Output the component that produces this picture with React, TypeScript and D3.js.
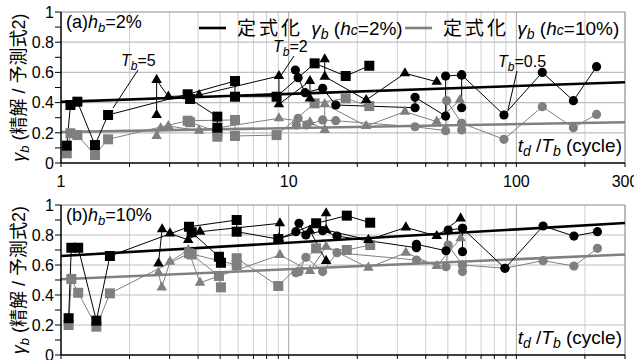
import React from 'react';
import * as d3 from 'd3';

type Pt = [number, number];

// x = td/Tb (cycle), y = gamma_b
const xMajorTicks = [1, 10, 100, 300];
const xMinorTicks = [2, 3, 4, 5, 6, 7, 8, 9, 20, 30, 40, 50, 60, 70, 80, 90, 200];
const yTicks = [0, 0.2, 0.4, 0.6, 0.8, 1];
const yMinorTicks = [0.1, 0.3, 0.5, 0.7, 0.9];

// ---- (a) hb = 2% ----
const aBlackSq1: Pt[] = [[1.06, 0.115], [1.1, 0.384], [1.18, 0.406], [1.41, 0.119], [1.61, 0.318], [3.6, 0.455], [5.81, 0.543], [5.81, 0.439], [8.85, 0.439], [13.0, 0.66], [17.8, 0.576], [22.6, 0.644]];
const aBlackSq2: Pt[] = [[3.69, 0.424], [4.86, 0.307], [4.86, 0.234]];
const aBlackTri1: Pt[] = [[2.63, 0.318], [2.63, 0.55], [2.96, 0.44], [4.04, 0.45], [9.06, 0.576], [9.06, 0.389], [12.4, 0.543], [12.4, 0.428]];
const aBlackTri2: Pt[] = [[14.4, 0.687], [14.4, 0.572], [21.9, 0.417], [32.4, 0.594], [44.7, 0.538]];
const aBlackCir1: Pt[] = [[10.7, 0.616], [11.0, 0.565], [11.8, 0.466], [14.1, 0.495], [16.1, 0.384], [35.9, 0.366], [35.9, 0.435], [48.9, 0.311], [48.9, 0.576], [57.5, 0.583], [57.5, 0.366]];
const aBlackCir2: Pt[] = [[57.5, 0.583], [88.2, 0.318], [130, 0.6], [178, 0.413], [225, 0.638]];

const aGraySq1: Pt[] = [[1.06, 0.064], [1.1, 0.197], [1.18, 0.185], [1.41, 0.053], [1.61, 0.157], [3.6, 0.28], [5.81, 0.285], [5.81, 0.179], [8.85, 0.185], [13.0, 0.395], [17.8, 0.428], [22.6, 0.377]];
const aGraySq2: Pt[] = [[3.69, 0.27], [4.86, 0.207], [4.86, 0.174]];
const aGrayTri: Pt[] = [[2.63, 0.179], [2.74, 0.23], [2.96, 0.245], [4.04, 0.214], [9.06, 0.296], [12.4, 0.27], [14.4, 0.219], [14.4, 0.39], [21.9, 0.245], [32.4, 0.34], [44.7, 0.274], [56.5, 0.417]];
const aGrayCir1: Pt[] = [[10.8, 0.252], [11.0, 0.296], [12.0, 0.252], [14.1, 0.285], [16.1, 0.28], [35.9, 0.24], [48.9, 0.214], [49.4, 0.413], [57.5, 0.263], [57.5, 0.219]];
const aGrayCir2: Pt[] = [[57.5, 0.263], [88.2, 0.157], [130, 0.373], [178, 0.234], [225, 0.322]];

const aTrendBlack: Pt[] = [[1, 0.405], [300, 0.535]];
const aTrendGray: Pt[] = [[1, 0.205], [300, 0.27]];

// ---- (b) hb = 10% ----
const bBlackSq1: Pt[] = [[1.08, 0.245], [1.11, 0.715], [1.19, 0.715], [1.43, 0.229], [1.64, 0.66], [3.65, 0.855], [5.91, 0.9], [5.91, 0.822], [9.0, 0.773], [13.2, 0.878], [18.0, 0.929], [22.8, 0.882]];
const bBlackSq2: Pt[] = [[3.75, 0.818], [4.94, 0.655], [5.04, 0.615]];
const bBlackTri1: Pt[] = [[2.68, 0.611], [2.78, 0.838], [3.01, 0.811], [3.62, 0.767], [4.08, 0.822], [9.15, 0.878], [9.07, 0.778], [12.4, 0.83], [14.6, 0.627]];
const bBlackTri2: Pt[] = [[14.6, 0.945], [14.6, 0.833], [22.4, 0.767], [32.7, 0.851], [44.7, 0.793], [56.9, 0.911]];
const bBlackCir1: Pt[] = [[10.75, 0.822], [11.1, 0.878], [11.9, 0.8], [14.1, 0.829], [16.3, 0.793], [36.4, 0.715], [36.4, 0.738], [49.1, 0.695], [50.2, 0.833], [58, 0.845], [58, 0.689]];
const bBlackCir2: Pt[] = [[58, 0.845], [89.1, 0.578], [131, 0.86], [179, 0.793], [227, 0.822]];

const bGraySq1: Pt[] = [[1.08, 0.2], [1.11, 0.507], [1.19, 0.415], [1.43, 0.189], [1.64, 0.411], [3.65, 0.678], [5.91, 0.6], [5.91, 0.645], [9.0, 0.46], [13.2, 0.711], [18.0, 0.7], [22.8, 0.733]];
const bGraySq2: Pt[] = [[3.75, 0.67], [4.94, 0.527], [5.04, 0.451]];
const bGrayTri: Pt[] = [[2.68, 0.549], [2.77, 0.451], [3.01, 0.622], [3.62, 0.7], [4.08, 0.482], [9.15, 0.667], [12.4, 0.56], [14.6, 0.722], [22.4, 0.582], [32.7, 0.682], [44.7, 0.593], [56.9, 0.778]];
const bGrayCir1: Pt[] = [[10.75, 0.549], [11.1, 0.555], [11.9, 0.651], [14.1, 0.556], [16.3, 0.682], [36.4, 0.633], [49.1, 0.589], [50.2, 0.733], [58, 0.6], [58, 0.556]];
const bGrayCir2: Pt[] = [[58, 0.6], [89.1, 0.578], [131, 0.629], [179, 0.593], [227, 0.711]];

const bTrendBlack: Pt[] = [[1, 0.66], [300, 0.88]];
const bTrendGray: Pt[] = [[1, 0.505], [300, 0.67]];

type Shape = 'sq' | 'tri' | 'cir';
interface Series { pts: Pt[]; shape: Shape; dark: boolean }

const BLACK = '#000';
const GRAY = '#7f7f7f';
const FONT = '"Liberation Sans", Arial, "Noto Sans CJK JP", sans-serif';

const panelA: Series[] = [
  { pts: aGraySq1, shape: 'sq', dark: false },
  { pts: aGraySq2, shape: 'sq', dark: false },
  { pts: aGrayTri, shape: 'tri', dark: false },
  { pts: aGrayCir1, shape: 'cir', dark: false },
  { pts: aGrayCir2, shape: 'cir', dark: false },
  { pts: aBlackSq1, shape: 'sq', dark: true },
  { pts: aBlackSq2, shape: 'sq', dark: true },
  { pts: aBlackTri1, shape: 'tri', dark: true },
  { pts: aBlackTri2, shape: 'tri', dark: true },
  { pts: aBlackCir1, shape: 'cir', dark: true },
  { pts: aBlackCir2, shape: 'cir', dark: true },
];

const panelB: Series[] = [
  { pts: bGraySq1, shape: 'sq', dark: false },
  { pts: bGraySq2, shape: 'sq', dark: false },
  { pts: bGrayTri, shape: 'tri', dark: false },
  { pts: bGrayCir1, shape: 'cir', dark: false },
  { pts: bGrayCir2, shape: 'cir', dark: false },
  { pts: bBlackSq1, shape: 'sq', dark: true },
  { pts: bBlackSq2, shape: 'sq', dark: true },
  { pts: bBlackTri1, shape: 'tri', dark: true },
  { pts: bBlackTri2, shape: 'tri', dark: true },
  { pts: bBlackCir1, shape: 'cir', dark: true },
  { pts: bBlackCir2, shape: 'cir', dark: true },
];

const left = 61;
const right = 625;
const x = d3.scaleLog().domain([1, 300]).range([left, right]);
const triPath = d3.symbol(d3.symbolTriangle, 48)() as string;

const Marker: React.FC<{ cx: number; cy: number; shape: Shape; color: string }> = ({ cx, cy, shape, color }) => {
  if (shape === 'sq') return <rect x={cx - 5} y={cy - 5} width={10} height={10} fill={color} />;
  if (shape === 'cir') return <circle cx={cx} cy={cy} r={4.6} fill={color} />;
  return <path d={triPath} transform={`translate(${cx},${cy})`} fill={color} />;
};

interface PanelProps {
  top: number;
  bottom: number;
  series: Series[];
  trendBlack: Pt[];
  trendGray: Pt[];
  tag: string;
  showXLabels: boolean;
  children?: React.ReactNode;
}

const Panel: React.FC<PanelProps> = ({ top, bottom, series, trendBlack, trendGray, tag, showXLabels, children }) => {
  const y = d3.scaleLinear().domain([0, 1]).range([bottom, top]);
  const line = d3.line<Pt>().x(d => x(d[0])).y(d => y(d[1]));
  const mid = (top + bottom) / 2;
  return (
    <g>
      {/* grid */}
      {xMinorTicks.map(t => (
        <line key={'gx' + t} x1={x(t)} x2={x(t)} y1={top} y2={bottom} stroke="#cfcfcf" strokeWidth={1} />
      ))}
      {[10, 100].map(t => (
        <line key={'gM' + t} x1={x(t)} x2={x(t)} y1={top} y2={bottom} stroke="#a6a6a6" strokeWidth={1} />
      ))}
      {[0.2, 0.4, 0.6, 0.8].map(t => (
        <line key={'gy' + t} x1={left} x2={right} y1={y(t)} y2={y(t)} stroke="#bdbdbd" strokeWidth={1.2} />
      ))}
      <line x1={left} x2={right} y1={top} y2={top} stroke="#8c8c8c" strokeWidth={1.2} />
      <line x1={right} x2={right} y1={top} y2={bottom} stroke="#8c8c8c" strokeWidth={1.2} />

      {/* trend lines */}
      <path d={line(trendGray) || ''} stroke="#808080" strokeWidth={2.6} fill="none" />
      <path d={line(trendBlack) || ''} stroke={BLACK} strokeWidth={2.6} fill="none" />

      {/* data */}
      {series.map((s, i) => (
        <path key={'l' + i} d={line(s.pts) || ''} stroke={s.dark ? BLACK : GRAY} strokeWidth={1} fill="none" />
      ))}
      {series.map((s, i) => (
        <g key={'m' + i}>
          {s.pts.map((p, j) => (
            <Marker key={j} cx={x(p[0])} cy={y(p[1])} shape={s.shape} color={s.dark ? BLACK : GRAY} />
          ))}
        </g>
      ))}

      {/* axes */}
      <line x1={left} x2={left} y1={top} y2={bottom} stroke={BLACK} strokeWidth={1.5} />
      <line x1={left} x2={right} y1={bottom} y2={bottom} stroke={BLACK} strokeWidth={1.5} />
      {yTicks.concat(yMinorTicks).map(t => (
        <line key={'ty' + t} x1={left - 6} x2={left} y1={y(t)} y2={y(t)} stroke={BLACK} strokeWidth={1} />
      ))}
      {yTicks.map(t => (
        <text key={'ly' + t} x={54} y={y(t)} dy="0.36em" textAnchor="end" fontSize={16} fontFamily={FONT}>
          {t === 0 || t === 1 ? String(t) : t.toFixed(1)}
        </text>
      ))}
      {xMajorTicks.concat(xMinorTicks).map(t => (
        <line key={'tx' + t} x1={x(t)} x2={x(t)} y1={bottom} y2={bottom + 4} stroke={BLACK} strokeWidth={1} />
      ))}
      {showXLabels && xMajorTicks.map(t => (
        <text key={'lx' + t} x={x(t)} y={bottom + 24} textAnchor="middle" fontSize={16} fontFamily={FONT}>{t}</text>
      ))}

      {/* y label */}
      <text transform={`translate(25,${mid}) rotate(-90)`} textAnchor="middle" fontSize={18} fontFamily={FONT}>
        <tspan fontStyle="italic">γ</tspan>
        <tspan fontStyle="italic" fontSize={13} dy={4}>b</tspan>
        <tspan dy={-4}> (精解 / 予測式2)</tspan>
      </text>

      {/* panel tag */}
      <text x={66} y={top + 16} fontSize={18} fontFamily={FONT}>
        {tag}<tspan fontStyle="italic">h</tspan>
        <tspan fontStyle="italic" fontSize={13} dy={4}>b</tspan>
        <tspan dy={-4}>={tag === '(a)' ? '2%' : '10%'}</tspan>
      </text>

      {/* x label */}
      <text x={622} y={bottom - 11} textAnchor="end" fontSize={19} fontFamily={FONT}>
        <tspan fontStyle="italic">t</tspan>
        <tspan fontStyle="italic" fontSize={14} dy={4}>d</tspan>
        <tspan dy={-4}> /</tspan>
        <tspan fontStyle="italic">T</tspan>
        <tspan fontStyle="italic" fontSize={14} dy={4}>b</tspan>
        <tspan dy={-4}> (cycle)</tspan>
      </text>
      {children}
    </g>
  );
};

const TbNote: React.FC<{ tx: number; ty: number; val: string; from: [number, number]; to: [number, number] }> = ({ tx, ty, val, from, to }) => (
  <g>
    <line x1={from[0]} y1={from[1]} x2={to[0]} y2={to[1]} stroke={BLACK} strokeWidth={1} />
    <text x={tx} y={ty} fontSize={16} fontFamily={FONT}>
      <tspan fontStyle="italic">T</tspan>
      <tspan fontStyle="italic" fontSize={12} dy={4}>b</tspan>
      <tspan dy={-4}>={val}</tspan>
    </text>
  </g>
);

const LegendItem: React.FC<{ lx: number; color: string; hc: string }> = ({ lx, color, hc }) => (
  <g fontFamily={FONT}>
    <line x1={lx} x2={lx + 27} y1={28} y2={28} stroke={color} strokeWidth={2.6} />
    <text x={lx + 38} y={35} fontSize={19}>
      <tspan letterSpacing={3}>定式化 </tspan>
      <tspan fontStyle="italic">γ</tspan>
      <tspan fontStyle="italic" fontSize={14} dy={4}>b</tspan>
      <tspan dy={-4}> (</tspan>
      <tspan fontStyle="italic">h</tspan>
      <tspan fontStyle="italic" fontSize={14}>c</tspan>
      <tspan>={hc})</tspan>
    </text>
  </g>
);

export default function App() {
  return (
    <svg width={634} height={360} style={{ position: 'absolute', left: 0, top: 0, background: '#fff' }}>
      <rect width={634} height={360} fill="#fff" />
      <Panel top={12} bottom={163} series={panelA} trendBlack={aTrendBlack} trendGray={aTrendGray} tag="(a)" showXLabels>
        <LegendItem lx={199} color={BLACK} hc="2%" />
        <LegendItem lx={405} color="#808080" hc="10%" />
        <TbNote tx={121} ty={66} val="5" from={[138, 70]} to={[113, 108]} />
        <TbNote tx={273} ty={52} val="2" from={[294, 56]} to={[280, 77]} />
        <TbNote tx={498} ty={67} val="0.5" from={[517, 71]} to={[508, 110]} />
      </Panel>
      <Panel top={205} bottom={355} series={panelB} trendBlack={bTrendBlack} trendGray={bTrendGray} tag="(b)" showXLabels={false} />
    </svg>
  );
}
